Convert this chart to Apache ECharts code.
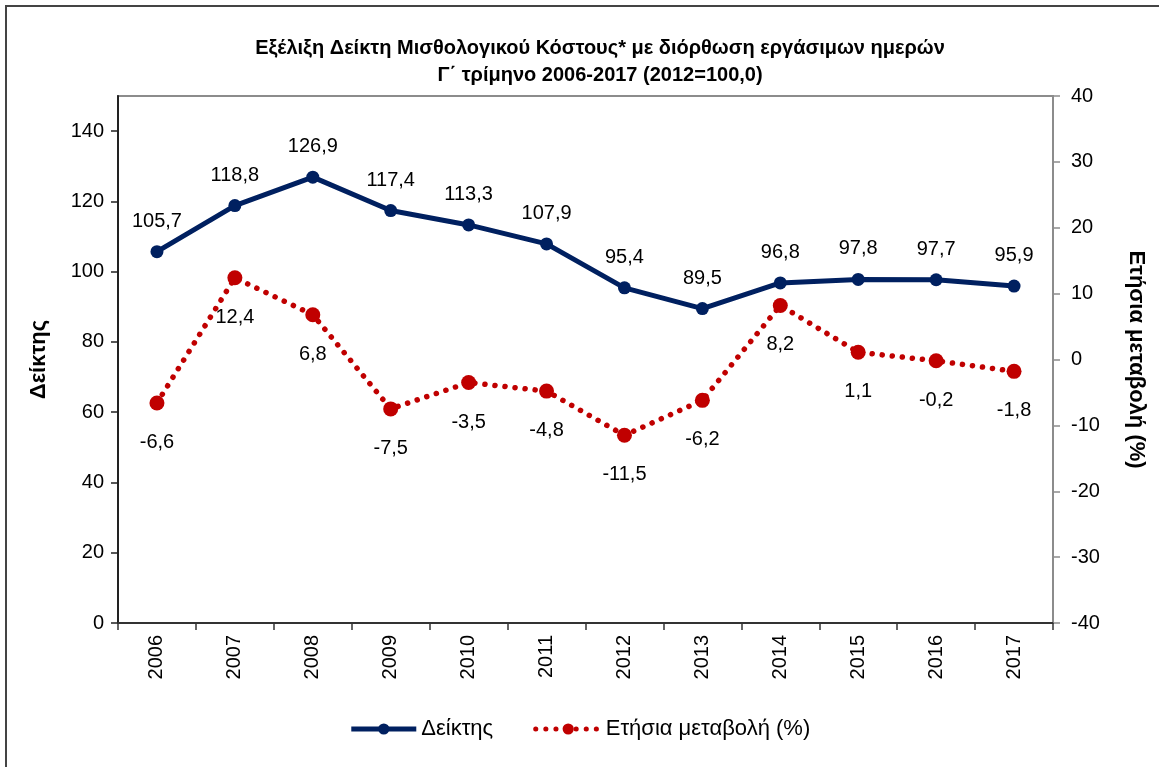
<!DOCTYPE html>
<html>
<head>
<meta charset="utf-8">
<script src="https://cdn.jsdelivr.net/npm/echarts@6/dist/echarts.min.js"></script>
<style>
html, body { margin: 0; padding: 0; background: #fff; }
#chart { width: 1159px; height: 767px; }
</style>
</head>
<body>
<div id="chart"></div>
<script>
var years = ['2006','2007','2008','2009','2010','2011','2012','2013','2014','2015','2016','2017'];
var indexValues = [105.7, 118.8, 126.9, 117.4, 113.3, 107.9, 95.4, 89.5, 96.8, 97.8, 97.7, 95.9];
var changeValues = [-6.6, 12.4, 6.8, -7.5, -3.5, -4.8, -11.5, -6.2, 8.2, 1.1, -0.2, -1.8];
var leftTicks = [0, 20, 40, 60, 80, 100, 120, 140];

var fmt = function (p) { return String(p.value).replace('.', ','); };
var labelFont = { fontFamily: 'Liberation Sans, Arial, sans-serif', fontSize: 20, color: '#000' };

option = {
    backgroundColor: '#fff',
    animation: false,
    title: {
        text: 'Εξέλιξη Δείκτη Μισθολογικού Κόστους* με διόρθωση εργάσιμων ημερών\nΓ΄ τρίμηνο 2006-2017 (2012=100,0)',
        left: 595,
        top: 30,
        textAlign: 'center',
        textStyle: {
            fontFamily: 'Liberation Sans, Arial, sans-serif',
            fontWeight: 'bold',
            fontSize: 20,
            lineHeight: 27,
            color: '#000'
        }
    },
    graphic: [
        {
            type: 'polyline',
            shape: { points: [[6, 767], [6, 6], [1159, 6]] },
            style: { stroke: '#444', lineWidth: 2, fill: null },
            silent: true
        }
    ],
    legend: {
        bottom: 22,
        left: 'center',
        itemWidth: 65,
        itemHeight: 14,
        itemGap: 40,
        lineStyle: { width: 5 },
        textStyle: { fontFamily: 'Liberation Sans, Arial, sans-serif', fontSize: 22, color: '#000' },
        data: ['Δείκτης', 'Ετήσια μεταβολή (%)']
    },
    grid: { left: 118, right: 106, top: 96, bottom: 144, show: true, borderColor: '#8c8c8c', borderWidth: 2 },
    xAxis: [{
        type: 'category',
        data: years,
        boundaryGap: true,
        axisLine: { lineStyle: { color: '#333', width: 2 } },
        axisTick: { show: true, alignWithLabel: false, length: 7, lineStyle: { color: '#333', width: 1.5 } },
        axisLabel: Object.assign({ rotate: 90, margin: 12 }, labelFont),
        splitLine: { show: false }
    }],
    yAxis: [
        {
            type: 'value',
            min: 0,
            max: 150,
            interval: 10,
            name: 'Δείκτης',
            nameLocation: 'middle',
            nameRotate: 90,
            nameGap: 68,
            nameTextStyle: { fontFamily: 'Liberation Sans, Arial, sans-serif', fontWeight: 'bold', fontSize: 22, color: '#000' },
            axisLine: { show: true, lineStyle: { color: '#222', width: 2 } },
            axisTick: { show: true, length: 7, customValues: leftTicks, lineStyle: { color: '#222', width: 1.5 } },
            axisLabel: Object.assign({ margin: 14, customValues: leftTicks }, labelFont),
            splitLine: { show: false }
        },
        {
            type: 'value',
            min: -40,
            max: 40,
            interval: 10,
            position: 'right',
            name: 'Ετήσια μεταβολή (%)',
            nameLocation: 'middle',
            nameRotate: -90,
            nameGap: 72,
            nameTextStyle: { fontFamily: 'Liberation Sans, Arial, sans-serif', fontWeight: 'bold', fontSize: 22, color: '#000' },
            axisLine: { show: true, lineStyle: { color: '#8c8c8c', width: 2 } },
            axisTick: { show: true, length: 7, lineStyle: { color: '#8c8c8c', width: 1.5 } },
            axisLabel: Object.assign({ margin: 18 }, labelFont),
            splitLine: { show: false }
        }
    ],
    series: [
        {
            name: 'Δείκτης',
            type: 'line',
            yAxisIndex: 0,
            data: indexValues,
            symbol: 'circle',
            symbolSize: 13,
            itemStyle: { color: '#002060' },
            lineStyle: { color: '#002060', width: 5 },
            label: Object.assign({ show: true, position: 'top', distance: 14, formatter: fmt }, labelFont),
            z: 3
        },
        {
            name: 'Ετήσια μεταβολή (%)',
            type: 'line',
            yAxisIndex: 1,
            data: changeValues,
            symbol: 'circle',
            symbolSize: 15,
            itemStyle: { color: '#c00000' },
            lineStyle: { color: '#c00000', width: 5.5, type: [0.1, 10], cap: 'round' },
            label: Object.assign({ show: true, position: 'bottom', distance: 22, formatter: fmt }, labelFont),
            z: 2
        }
    ]
};
var myChart = echarts.init(document.getElementById('chart'));
myChart.setOption(option);
</script>
</body>
</html>
